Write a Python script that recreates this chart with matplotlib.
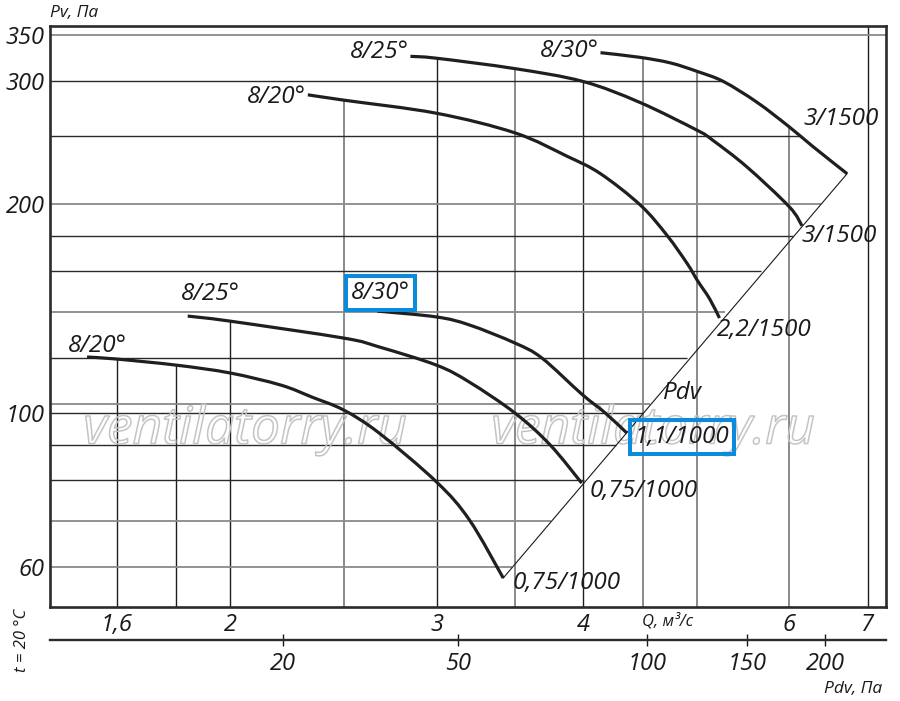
import numpy as np
import matplotlib
matplotlib.use("Agg")
import matplotlib.pyplot as plt
import matplotlib.patheffects as pe
from matplotlib.path import Path
from matplotlib.patches import PathPatch
from matplotlib.ticker import NullLocator

plt.rcParams['font.family'] = ['Open Sans', 'DejaVu Sans']
plt.rcParams['font.style'] = 'italic'

# fan curves, Q in m3/s, Pv in Pa
q_hi_20 = [2.33, 2.50, 3.00, 3.50, 3.88, 4.14, 4.48, 4.72, 4.91, 5.01, 5.13, 5.23]
p_hi_20 = [287, 282, 270, 253, 234, 221, 199, 180, 164, 155, 146, 137]
q_hi_25 = [2.85, 3.00, 3.50, 4.00, 4.47, 5.01, 5.16, 5.52, 6.00, 6.15]
p_hi_25 = [326, 324, 313, 300, 280, 255, 247, 226, 198, 186]
q_hi_30 = [4.14, 4.47, 4.75, 5.01, 5.27, 5.63, 6.00, 6.28, 6.72]
p_hi_30 = [330, 325, 319, 310, 300, 280, 258, 242, 221]

q_lo_20 = [1.51, 1.60, 1.80, 2.00, 2.21, 2.35, 2.50, 2.68, 3.00, 3.20, 3.42]
p_lo_20 = [120.4, 119.6, 117.2, 114.2, 109.7, 105.4, 101.0, 93.6, 79.6, 70.2, 57.9]
q_lo_25 = [1.84, 2.00, 2.50, 2.68, 3.00, 3.20, 3.50, 3.75, 3.99]
p_lo_25 = [137.9, 135.6, 128.2, 124.5, 117.2, 110.8, 100.0, 90.0, 79.3]
q_lo_30 = [2.67, 3.00, 3.20, 3.50, 3.69, 3.99, 4.18, 4.36]
p_lo_30 = [140.2, 137.5, 133.9, 126.1, 120.0, 106.5, 100.0, 93.6]

curves = [(q_hi_20, p_hi_20), (q_hi_25, p_hi_25), (q_hi_30, p_hi_30),
          (q_lo_20, p_lo_20), (q_lo_25, p_lo_25), (q_lo_30, p_lo_30)]

# grid of the nomogram
q_grid = [1.6, 1.8, 2.0, 2.5, 3.0, 3.5, 4.0, 4.5, 5.0, 6.0, 7.0]
q_grid_light = [2.5, 3.5, 4.5, 5.0, 6.0]
p_grid = [60, 70, 80, 90, 100, 103, 120, 140, 160, 180, 200, 250, 300, 350]
p_grid_light = [60, 70, 103, 140, 200, 350]

q_ticks = [1.6, 2, 3, 4, 6, 7]
q_labels = ['1,6', '2', '3', '4', '6', '7']
p_ticks = [60, 100, 200, 300, 350]
p_labels = ['60', '100', '200', '300', '350']

# dynamic pressure scale under the chart
pdv_labels = ['20', '50', '100', '150', '200']
pdv_tick_q = [2.22, 3.13, 4.54, 5.52, 6.44]

W, H = 900, 701
fig = plt.figure(figsize=(W / 100, H / 100), dpi=100)
ax = fig.add_axes([50 / W, 1 - 607 / H, 836 / W, 581 / H])
ax.set_xscale('log')
ax.set_yscale('log')
xmin, xmax = 1.404, 7.254
ymin, ymax = 52.6, 360.5
ax.set_xlim(xmin, xmax)
ax.set_ylim(ymin, ymax)

# Pdv line through curve end points
end_q = np.array([c[0][-1] for c in curves])
end_p = np.array([c[1][-1] for c in curves])
order = np.argsort(end_p)
end_q, end_p = end_q[order], end_p[order]


def diag_q(p):
    return 10 ** np.interp(np.log10(p), np.log10(end_p), np.log10(end_q))


def smooth_path(q, p):
    # bezier segments through the read points (done in log space)
    pts = np.column_stack([np.log10(q), np.log10(p)])
    n = len(pts)
    verts = [pts[0]]
    codes = [Path.MOVETO]
    for i in range(n - 1):
        p0 = pts[i - 1] if i > 0 else pts[i]
        p1, p2 = pts[i], pts[i + 1]
        p3 = pts[i + 2] if i + 2 < n else pts[i + 1]
        verts += [p1 + (p2 - p0) / 6, p2 - (p3 - p1) / 6, p2]
        codes += [Path.CURVE4] * 3
    return Path(10 ** np.array(verts), codes)


# vertical grid lines end at the highest curve above them
for q in q_grid:
    tops = [np.interp(q, qc, pc) for qc, pc in curves if qc[0] <= q <= qc[-1]]
    top = max(tops) if tops else ymax
    col = '#8a8a8a' if q in q_grid_light else '#1e1e1e'
    lw = 1.4 if q in q_grid_light else 1.0
    ax.vlines(q, ymin, top, color=col, lw=lw, zorder=1)

# horizontal grid lines end at the curves or at the Pdv line
for p in p_grid:
    rights = []
    for qc, pc in curves:
        if p <= pc[-1]:
            rights.append(diag_q(p))
        elif p <= pc[0]:
            rights.append(np.interp(p, pc[::-1], qc[::-1]))
    right = max(rights) if rights else xmax
    col = '#8a8a8a' if p in p_grid_light else '#2a2a2a'
    lw = 1.3 if p in p_grid_light else 1.0
    ax.hlines(p, xmin, right, color=col, lw=lw, zorder=1)

ax.plot([end_q[0], end_q[-1]], [end_p[0], end_p[-1]], color='#1a1a1a', lw=0.8, zorder=2)

for qc, pc in curves:
    ax.add_patch(PathPatch(smooth_path(qc, pc), fc='none', ec='#1f1f1f', lw=2.3,
                           capstyle='butt', joinstyle='round', zorder=3))

for s in ax.spines.values():
    s.set_linewidth(1.9)
    s.set_color('#2b2b2b')

ax.xaxis.set_minor_locator(NullLocator())
ax.yaxis.set_minor_locator(NullLocator())
ax.set_xticks(q_ticks, q_labels)
ax.set_yticks(p_ticks, p_labels)
ax.tick_params(length=0, labelsize=17, colors='#1a1a1a')
ax.tick_params(axis='x', pad=4)
ax.tick_params(axis='y', pad=4)

FS = 17.5


def lab(q, p, s, dx, dy, ha='left', box=False):
    kw = {}
    if box:
        kw['bbox'] = dict(boxstyle='square,pad=0.2', fc='none', ec='#0b8bdb', lw=2.9)
    ax.annotate(s, (q, p), xytext=(dx * 0.72, -dy * 0.72), textcoords='offset points',
                ha=ha, va='center', fontsize=FS, color='#1a1a1a', zorder=4, **kw)


lab(q_hi_20[0], p_hi_20[0], '8/20°', -2, 2, ha='right')
lab(q_hi_25[0], p_hi_25[0], '8/25°', -2, -4, ha='right')
lab(q_hi_30[0], p_hi_30[0], '8/30°', -2, -2, ha='right')
lab(q_hi_30[-1], p_hi_30[-1], '3/1500', -44, -55)
lab(q_hi_25[-1], p_hi_25[-1], '3/1500', 0, 10)
lab(q_hi_20[-1], p_hi_20[-1], '2,2/1500', -3, 12)
lab(q_lo_20[0], p_lo_20[0], '8/20°', 10, -11, ha='center')
lab(q_lo_25[0], p_lo_25[0], '8/25°', 23, -22, ha='center')
lab(q_lo_30[0], p_lo_30[0], '8/30°', 3, -18, ha='center', box=True)
lab(q_lo_30[-1], p_lo_30[-1], '1,1/1000', 8, 4, box=True)
lab(q_lo_25[-1], p_lo_25[-1], '0,75/1000', 8, 8)
lab(q_lo_20[-1], p_lo_20[-1], '0,75/1000', 9, 5)
ax.text(4.86, 107.0, 'Pdv', ha='center', va='center', fontsize=FS, color='#1a1a1a', zorder=4)

# watermark
for xc in (245, 653):
    ax.text(xc / W, 1 - 430 / H, 'ventilatorry.ru', transform=fig.transFigure,
            ha='center', va='center', fontsize=37, color='none', zorder=1.5,
            clip_on=False,
            path_effects=[pe.Stroke(linewidth=1.1, foreground='#c4c4c4')])

# Pdv scale
ax2 = fig.add_axes([50 / W, 1 - 640 / H, 836 / W, 0.0005])
ax2.set_xscale('log')
ax2.set_xlim(xmin, xmax)
ax2.set_facecolor('none')
for k in ('left', 'right', 'top'):
    ax2.spines[k].set_visible(False)
ax2.spines['bottom'].set_linewidth(1.7)
ax2.spines['bottom'].set_color('#2b2b2b')
ax2.set_yticks([])
ax2.xaxis.set_minor_locator(NullLocator())
ax2.set_xticks(pdv_tick_q, pdv_labels)
ax2.tick_params(axis='x', direction='inout', length=8, width=1.0, pad=5,
                labelsize=17, colors='#1a1a1a')

fig.text(50 / W, 1 - 13 / H, 'Pv, Па', ha='left', va='center', fontsize=12.5, color='#1a1a1a')
fig.text(853 / W, 1 - 689 / H, 'Pdv, Па', ha='center', va='center', fontsize=12.5, color='#1a1a1a')
fig.text(668 / W, 1 - 621 / H, 'Q, м³/с', ha='center', va='center', fontsize=12, color='#1a1a1a')
fig.text(22 / W, 1 - 640 / H, 't = 20 °C', ha='center', va='center', rotation=90,
         fontsize=12, color='#1a1a1a')

fig.savefig('out.png', dpi=100)
